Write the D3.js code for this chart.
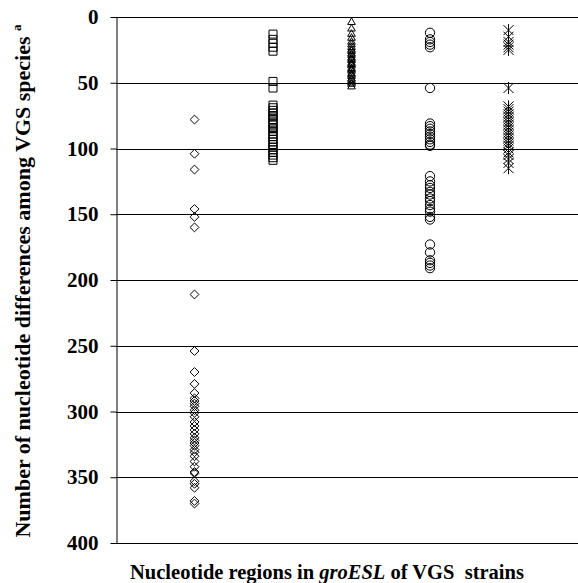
<!DOCTYPE html>
<html lang="en">
  <head>
    <meta charset="UTF-8" />
    <title>Nucleotide differences among VGS species</title>
    <script src="https://cdn.jsdelivr.net/npm/d3@7"></script>
    <style>
      body {
        margin: 0;
        background: #fff;
      }
      svg text {
        font-family: 'Liberation Serif', 'Times New Roman', serif;
        font-weight: 700;
        fill: #000;
      }
      .grid line {
        stroke: #000;
        stroke-width: 1px;
      }
      .marker {
        fill: none;
        stroke: #000;
        stroke-width: 1px;
      }
    </style>
  </head>
  <body>
    <svg width="578" height="583"></svg>
    <script>
      // one array per region of groESL (x positions 1..5)
      const diamondValues = [
        78, 104, 116, 146, 152, 160, 211, 254, 270, 279, 286, 290, 292, 294,
        296, 299, 301, 304, 308, 311, 314, 317, 320, 322, 324, 326, 329, 331,
        334, 338, 342, 346, 347, 353, 355, 358, 368, 370,
      ];
      const squareValues = [
        13, 17, 20, 23, 26, 49, 54, 67, 69, 71, 73, 75, 76, 78, 80, 82, 84, 85,
        87, 89, 91, 93, 95, 97, 99, 101, 103, 105, 107, 109,
      ];
      const triangleValues = [
        4, 9, 13, 16, 19, 21, 23, 25, 26, 28, 29, 31, 32, 33, 35, 36, 37, 39,
        40, 41, 43, 44, 45, 47, 48, 50, 51, 53,
      ];
      const circleValues = [
        12, 17, 19, 21, 23, 54, 81, 83, 85, 87, 89, 91, 93, 95, 97, 98, 121,
        125, 128, 130, 133, 135, 138, 140, 143, 146, 148, 152, 154, 173, 179,
        185, 187, 189, 191,
      ];
      const starValues = [
        10, 15, 19, 21, 23, 25, 54, 68, 70, 72, 74, 76, 78, 80, 82, 84, 86, 88,
        90, 92, 94, 96, 98, 100, 103, 105, 108, 111, 115,
      ];
      const yTicks = [0, 50, 100, 150, 200, 250, 300, 350, 400];

      const series = [
        { pos: 1, shape: 'diamond', values: diamondValues },
        { pos: 2, shape: 'square', values: squareValues },
        { pos: 3, shape: 'triangle', values: triangleValues },
        { pos: 4, shape: 'circle', values: circleValues },
        { pos: 5, shape: 'star', values: starValues },
      ];

      const svg = d3.select('svg');
      const width = +svg.attr('width');

      const x = d3.scaleLinear().domain([0, 6]).range([116, 587]);
      const y = d3.scaleLinear().domain([0, 400]).range([17, 543]);

      // gridlines
      svg
        .append('g')
        .attr('class', 'grid')
        .selectAll('line')
        .data(yTicks)
        .join('line')
        .attr('x1', x(0))
        .attr('x2', width)
        .attr('y1', (d) => Math.round(y(d)) + 0.5)
        .attr('y2', (d) => Math.round(y(d)) + 0.5);

      const yAxis = svg
        .append('g')
        .attr('transform', `translate(${x(0) + 0.5},0)`)
        .call(
          d3
            .axisLeft(y)
            .tickValues(yTicks)
            .tickSize(6)
            .tickSizeOuter(0)
            .tickPadding(12)
        );
      yAxis.select('.domain').attr('stroke', '#000');
      yAxis.selectAll('.tick line').attr('stroke', '#000');
      yAxis
        .selectAll('.tick text')
        .style('font-size', '21px')
        .style('font-family', "'Liberation Serif', serif")
        .style('font-weight', 700);

      const sym = {
        diamond: d3.symbol().type(d3.symbolDiamond2).size(50),
        square: d3.symbol().type(d3.symbolSquare).size(64),
        triangle: d3.symbol().type(d3.symbolTriangle2).size(42),
        circle: d3.symbol().type(d3.symbolCircle).size(68),
      };

      const groups = svg
        .selectAll('.series')
        .data(series)
        .join('g')
        .attr('class', 'series');

      groups.each(function (s) {
        const pts = d3
          .select(this)
          .selectAll('path')
          .data(s.values)
          .join('path')
          .attr('class', 'marker')
          .attr('transform', (v) => `translate(${x(s.pos)},${y(v)})`);
        if (s.shape === 'star') {
          const r = 5;
          pts.attr(
            'd',
            `M${-r},${-r}L${r},${r}M${-r},${r}L${r},${-r}M0,${-r - 1}L0,${r + 1}`
          );
        } else {
          pts.attr('d', sym[s.shape]());
        }
      });

      // axis titles
      const yTitle = svg
        .append('text')
        .attr('transform', 'translate(30,281) rotate(-90)')
        .attr('text-anchor', 'middle')
        .style('font-size', '22px');
      yTitle
        .append('tspan')
        .text('Number of nucleotide differences among VGS species ');
      yTitle
        .append('tspan')
        .attr('dy', -9)
        .style('font-size', '13px')
        .text('a');

      const xTitle = svg
        .append('text')
        .attr('x', 327)
        .attr('y', 579)
        .attr('text-anchor', 'middle')
        .style('font-size', '20.5px')
        .style('white-space', 'pre');
      xTitle.append('tspan').text('Nucleotide regions in ');
      xTitle.append('tspan').style('font-style', 'italic').text('groESL');
      xTitle.append('tspan').text(' of VGS  strains');
    </script>
  </body>
</html>
